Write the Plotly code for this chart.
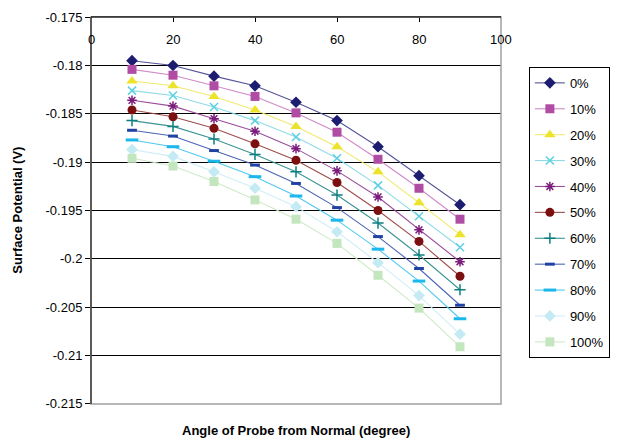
import plotly.graph_objects as go

angles = [10, 20, 30, 40, 50, 60, 70, 80, 90]
series_names = ["0%", "10%", "20%", "30%", "40%", "50%", "60%", "70%", "80%", "90%", "100%"]

s0 = [-0.1795, -0.1800, -0.1811, -0.1821, -0.1838, -0.1857, -0.1884, -0.1914, -0.1944]
s10 = [-0.1804, -0.1810, -0.1821, -0.1832, -0.1849, -0.1869, -0.1897, -0.1927, -0.1959]
s20 = [-0.1816, -0.1821, -0.1832, -0.1846, -0.1863, -0.1884, -0.1910, -0.1942, -0.1975]
s30 = [-0.1826, -0.1831, -0.1843, -0.1857, -0.1874, -0.1896, -0.1924, -0.1956, -0.1988]
s40 = [-0.1836, -0.1842, -0.1855, -0.1868, -0.1886, -0.1909, -0.1936, -0.1970, -0.2003]
s50 = [-0.1846, -0.1853, -0.1865, -0.1881, -0.1898, -0.1921, -0.1950, -0.1982, -0.2018]
s60 = [-0.1857, -0.1863, -0.1876, -0.1892, -0.1910, -0.1934, -0.1963, -0.1996, -0.2032]
s70 = [-0.1867, -0.1873, -0.1888, -0.1903, -0.1922, -0.1947, -0.1977, -0.2010, -0.2048]
s80 = [-0.1877, -0.1884, -0.1899, -0.1915, -0.1935, -0.1960, -0.1990, -0.2023, -0.2062]
s90 = [-0.1887, -0.1894, -0.1910, -0.1927, -0.1946, -0.1972, -0.2004, -0.2038, -0.2078]
s100 = [-0.1896, -0.1904, -0.1920, -0.1939, -0.1959, -0.1984, -0.2017, -0.2051, -0.2091]
all_series = [s0, s10, s20, s30, s40, s50, s60, s70, s80, s90, s100]

x_ticks = [0, 20, 40, 60, 80, 100]
x_tick_text = ["0", "20", "40", "60", "80", "100"]
y_tick_vals = [-0.175, -0.18, -0.185, -0.19, -0.195, -0.2, -0.205, -0.21, -0.215]
y_tick_text = ["-0.175", "-0.18", "-0.185", "-0.19", "-0.195", "-0.2", "-0.205", "-0.21", "-0.215"]

marker_colors = ["#1c1c70", "#b04ca4", "#ece42c", "#5cd0e0", "#7c1c7c", "#7c1010",
                 "#0c8080", "#2040a4", "#1cb8ec", "#c4eaf4", "#c4e6be"]
line_colors = ["#54549a", "#d08ac8", "#f0ea70", "#90dae8", "#9a4e9a", "#a04c4c",
               "#3c9494", "#4c64b4", "#50c8f0", "#cfeef6", "#cfeac8"]
symbols = ["diamond", "square", "triangle-up", "x-thin-open", "asterisk-open", "circle",
           "cross-thin-open", "line-ew-open", "line-ew-open", "diamond", "square"]
sizes = [9, 9, 10, 8, 8, 9, 8, 7, 9, 9, 9]
mlw = [0, 0, 0, 1.5, 1.5, 0, 1.5, 3, 3, 0, 0]

fig = go.Figure()
for i, (name, ys) in enumerate(zip(series_names, all_series)):
    fig.add_trace(go.Scatter(
        x=angles, y=ys, name=name, mode="lines+markers", legendgroup=name,
        line=dict(color=line_colors[i], width=1.1),
        marker=dict(symbol=symbols[i], size=sizes[i], color=marker_colors[i],
                    line=dict(width=mlw[i], color=marker_colors[i])),
    ))

font_family = "Liberation Sans, Arial, sans-serif"
annotations = [
    dict(text="<b>Angle of Probe from Normal (degree)</b>", xref="paper", yref="paper",
         x=0.5, y=-0.068, xanchor="center", yanchor="middle", showarrow=False,
         font=dict(size=13)),
    dict(text="<b>Surface Potential (V)</b>", xref="paper", yref="paper",
         x=-0.18, y=0.5, xanchor="center", yanchor="middle", showarrow=False,
         textangle=-90, font=dict(size=13)),
]
for xv, xt in zip(x_ticks, x_tick_text):
    annotations.append(dict(text=xt, xref="x", yref="paper", x=xv, y=0.9406,
                            xanchor="center", yanchor="middle", showarrow=False,
                            font=dict(size=13, color="black")))

fig.update_layout(
    width=617, height=440,
    margin=dict(l=91, r=116, t=17, b=36, autoexpand=False),
    paper_bgcolor="white", plot_bgcolor="white",
    font=dict(family=font_family, size=13, color="black"),
    showlegend=True,
    legend=dict(x=1.068, y=0.871, xanchor="left", yanchor="top",
                bgcolor="white", bordercolor="black", borderwidth=1,
                font=dict(size=13, color="black"), tracegroupgap=6,
                itemwidth=30),
    xaxis=dict(range=[0, 100], side="top", tickvals=x_ticks, ticks="inside", ticklen=5,
               tickcolor="black", showticklabels=False, showgrid=False,
               showline=True, linecolor="black", linewidth=1, zeroline=False),
    yaxis=dict(range=[-0.21502, -0.17498], tickvals=y_tick_vals, ticktext=y_tick_text,
               ticks="outside", ticklen=5, tickcolor="black", showgrid=True,
               gridcolor="black", gridwidth=1, showline=False, zeroline=False,
               tickfont=dict(size=13)),
    shapes=[dict(type="rect", xref="paper", yref="paper", x0=0, x1=1, y0=0, y1=1,
                 line=dict(color="#a0a0a0", width=1.5), layer="above"),
            dict(type="line", xref="paper", yref="paper", x0=0, x1=0, y0=0, y1=1,
                 line=dict(color="black", width=1), layer="above"),
            dict(type="line", xref="paper", yref="paper", x0=0, x1=1, y0=1, y1=1,
                 line=dict(color="black", width=1), layer="above")],
    annotations=annotations,
)

fig.write_html("out.html")
